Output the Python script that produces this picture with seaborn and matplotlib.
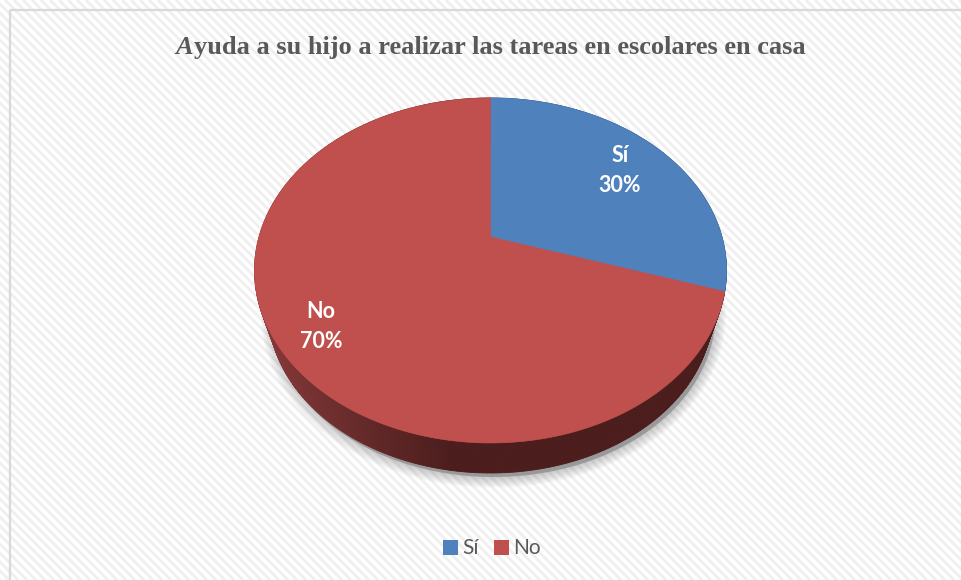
import numpy as np
import matplotlib
matplotlib.use("Agg")
import matplotlib.pyplot as plt
from matplotlib.patches import Polygon, Rectangle, Patch
from matplotlib.collections import LineCollection
import seaborn as sns

# ---------------- data ----------------
title_first = "A"
title_rest = "yuda a su hijo a realizar las tareas en escolares en casa"
categories = ["Sí", "No"]
values = [30, 70]
pct_labels = ["30%", "70%"]

# ---------------- style ----------------
sns.set_theme(style="white")
plt.rcParams['font.family'] = ['Lato', 'DejaVu Sans']
plt.rcParams['font.serif'] = ['Liberation Serif', 'DejaVu Serif']
palette = sns.color_palette(["#4f81bd", "#c0504d"])
side_dark = [np.array([40, 64, 98]) / 255, np.array([76, 29, 29]) / 255]
side_light = [np.array([62, 98, 145]) / 255, np.array([140, 60, 60]) / 255]
text_gray = "#595959"

W, H = 961, 580
fig = plt.figure(figsize=(W / 100, H / 100), dpi=100)
fig.patch.set_facecolor("white")
ax = fig.add_axes([0, 0, 1, 1])
ax.set_xlim(0, W)
ax.set_ylim(H, 0)
ax.axis("off")

# background: chart area with diagonal stripes
x0, y0 = 10, 10
clip = Rectangle((x0, y0), W - x0, H - y0, transform=ax.transData, facecolor="white", edgecolor="none")
ax.add_patch(clip)
segs = []
for c in np.arange(-H, W + 10, 9):
    segs.append([(c, 0), (c + H, H)])
lc = LineCollection(segs, colors="#efefef", linewidths=2.0, zorder=1)
lc.set_clip_path(clip)
ax.add_collection(lc)
ax.plot([x0, x0], [y0, H], color="#d9d9d9", lw=1.6, zorder=2, solid_capstyle="butt")
ax.plot([x0, W], [y0, y0], color="#d9d9d9", lw=1.6, zorder=2, solid_capstyle="butt")

# ---------------- 3D pie geometry ----------------
cx, cy, A, B, k = 490.5, 237.0, 231.5, 166.0, 0.194
s_bot, cy_bot = 0.94, 279.4   # bottom face: smaller (farther) and lower


def proj(th, r=1.0, bottom=False):
    u = r * np.sin(th)
    v = r * np.cos(th)
    w = 1 + k * v
    if bottom:
        return cx + s_bot * A * u / w, cy_bot - s_bot * B * v / w
    return cx + A * u / w, cy - B * v / w


total = float(sum(values))
bounds = np.concatenate([[0], np.cumsum(values)]) / total * 2 * np.pi

# soft shadow below the pie
th_all = np.linspace(0, 2 * np.pi, 400)
sx, sy = proj(th_all, 1.0, bottom=True)
sx = sx + 3
sy = sy + 4
for i in range(12, 0, -1):
    ax.add_patch(Polygon(np.column_stack([sx, sy]), closed=True, facecolor="none",
                         edgecolor=(0.45, 0.45, 0.45, 0.03), lw=i * 1.3, zorder=3))
ax.add_patch(Polygon(np.column_stack([sx, sy]), closed=True, facecolor=(0.6, 0.6, 0.6),
                     edgecolor="none", zorder=3))

# side walls: quads between top and bottom outline, drawn back to front
quads = []
xl = cx - A * 1.02
xr = cx + A * 1.02
for i in range(len(values)):
    n = max(4, int((bounds[i + 1] - bounds[i]) / (2 * np.pi) * 600))
    ts = np.linspace(bounds[i], bounds[i + 1], n + 1)
    for t0, t1 in zip(ts[:-1], ts[1:]):
        p0 = proj(t0)
        p1 = proj(t1)
        q1 = proj(t1, bottom=True)
        q0 = proj(t0, bottom=True)
        xm = 0.5 * (p0[0] + p1[0])
        f = np.clip((xm - xl) / (xr - xl), 0, 1)
        g = np.clip(f / 0.42, 0, 1) ** 0.8
        col = side_light[i] * (1 - g) + side_dark[i] * g
        depth_key = np.cos(0.5 * (t0 + t1))
        quads.append((depth_key, [p0, p1, q1, q0], col))
quads.sort(key=lambda q: -q[0])
for _, pts, col in quads:
    ax.add_patch(Polygon(pts, closed=True, facecolor=col, edgecolor=col, lw=0.6, zorder=4))

# top faces
for i in range(len(values)):
    ts = np.linspace(bounds[i], bounds[i + 1], 300)
    px, py = proj(ts)
    pts = np.column_stack([np.concatenate([[cx], px]), np.concatenate([[cy], py])])
    ax.add_patch(Polygon(pts, closed=True, facecolor=palette[i], edgecolor=palette[i],
                         lw=0.5, zorder=5))

# data labels
label_r = [0.75, 0.82]
for i in range(len(values)):
    mid = 0.5 * (bounds[i] + bounds[i + 1])
    lx, ly = proj(mid, label_r[i])
    ax.text(lx, ly - 7.1, categories[i], ha="center", va="baseline", color="white",
            fontsize=15.5, fontweight="bold", zorder=6)
    ax.text(lx, ly + 22.9, pct_labels[i], ha="center", va="baseline", color="white",
            fontsize=15.5, fontweight="bold", zorder=6)

# title with italic first letter
tkw = dict(family="serif", fontweight="bold", fontsize=19,
           color=text_gray, va="baseline", ha="left", zorder=6)
t1 = ax.text(0, 54.3, title_first, style="italic", **tkw)
t2 = ax.text(0, 54.3, title_rest, **tkw)
fig.canvas.draw()
r = fig.canvas.get_renderer()
w1 = t1.get_window_extent(r).width
w2 = t2.get_window_extent(r).width
start = 490 - (w1 + w2) / 2
t1.set_x(start)
t2.set_x(start + w1 + 0.5)

# legend
handles = [Patch(facecolor=palette[i], edgecolor="none", label=categories[i]) for i in range(len(values))]
fig.legend(handles=handles, loc="center", bbox_to_anchor=(492 / W, 1 - 548.5 / H), ncol=2,
           frameon=False, fontsize=15, handlelength=0.7, handleheight=0.7,
           handletextpad=0.2, columnspacing=0.75, labelcolor=text_gray)

fig.savefig("out.png", dpi=100, facecolor="white")
